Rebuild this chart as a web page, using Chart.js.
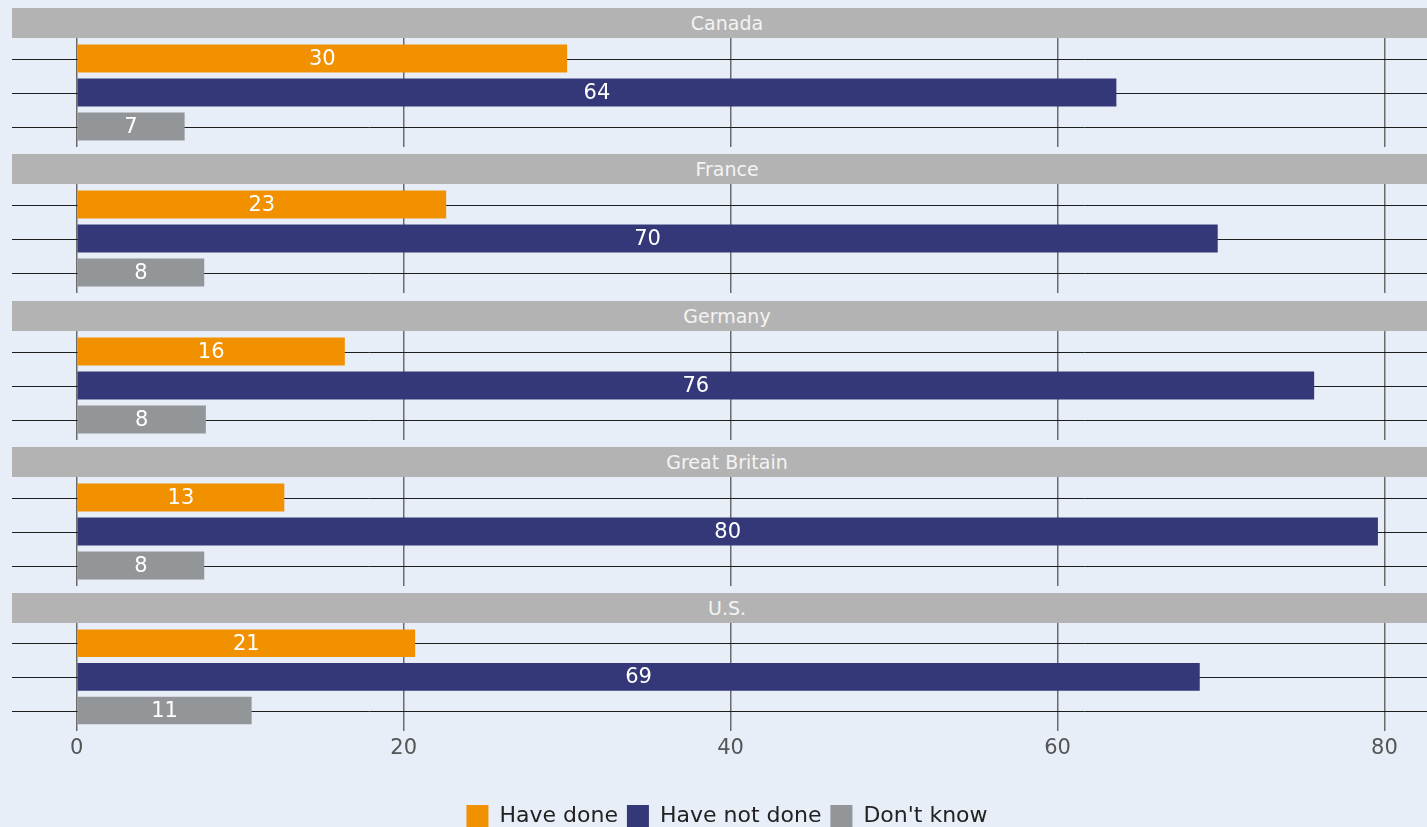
<!DOCTYPE html>
<html>
<head>
<meta charset="utf-8">
<script src="https://cdn.jsdelivr.net/npm/chart.js@4/dist/chart.umd.min.js"></script>
<style>
    html, body { margin: 0; padding: 0; background: #e8eef8; }
    #wrap { position: relative; width: 1427px; height: 827px; overflow: hidden; background: #e8eef8; }
    .strip {
        position: absolute; left: 12px; width: 1430px; height: 30px;
        background: #b3b3b3; color: #f4f4f4; text-align: center;
        font: 19px "DejaVu Sans", sans-serif; line-height: 30px;
    }
    canvas { position: absolute; left: 12px; }
</style>
</head>
<body>
<div id="wrap"></div>
<script>
const countries = ['Canada', 'France', 'Germany', 'Great Britain', 'U.S.'];
const seriesNames = ['Have done', 'Have not done', "Don't know"];
const haveDone = [30.0, 22.6, 16.4, 12.7, 20.7];
const haveNotDone = [63.6, 69.8, 75.7, 79.6, 68.7];
const dontKnow = [6.6, 7.8, 7.9, 7.8, 10.7];
const xTicks = [0, 20, 40, 60, 80];

const colors = ['#f29100', '#343879', '#929699'];
const fontFamily = '"DejaVu Sans", sans-serif';

Chart.defaults.font.family = fontFamily;

// horizontal rule through each bar centre
const rowLines = {
    id: 'rowLines',
    beforeDatasetsDraw(chart) {
        const { ctx, chartArea } = chart;
        ctx.save();
        ctx.strokeStyle = '#1e1e1e';
        ctx.lineWidth = 1;
        chart.data.datasets.forEach((ds, i) => {
            chart.getDatasetMeta(i).data.forEach(bar => {
                const y = Math.round(bar.y) + 0.5;
                ctx.beginPath();
                ctx.moveTo(chartArea.left, y);
                ctx.lineTo(chartArea.right, y);
                ctx.stroke();
            });
        });
        ctx.restore();
    }
};

// value labels centred in the bars
const barLabels = {
    id: 'barLabels',
    afterDatasetsDraw(chart) {
        const { ctx } = chart;
        ctx.save();
        ctx.fillStyle = '#ffffff';
        ctx.font = '21px ' + fontFamily;
        ctx.textAlign = 'center';
        ctx.textBaseline = 'middle';
        chart.data.datasets.forEach((ds, i) => {
            chart.getDatasetMeta(i).data.forEach((bar, j) => {
                const v = ds.data[j];
                ctx.fillText(String(Math.round(v)), (bar.base + bar.x) / 2, bar.y + 1);
            });
        });
        ctx.restore();
    }
};

const wrap = document.getElementById('wrap');
const panelStep = 146.25;

countries.forEach((country, i) => {
    const isLast = i === countries.length - 1;
    const top = 8 + i * panelStep;

    const strip = document.createElement('div');
    strip.className = 'strip';
    strip.style.top = top + 'px';
    strip.textContent = country;
    wrap.appendChild(strip);

    // canvas runs a little past the right edge, like the cropped original
    const canvas = document.createElement('canvas');
    canvas.width = 1430;
    canvas.height = isLast ? 214 : 109;
    canvas.style.top = (top + 30) + 'px';
    wrap.appendChild(canvas);

    new Chart(canvas, {
        type: 'bar',
        data: {
            labels: [country],
            datasets: [
                { label: seriesNames[0], data: [haveDone[i]], backgroundColor: colors[0] },
                { label: seriesNames[1], data: [haveNotDone[i]], backgroundColor: colors[1] },
                { label: seriesNames[2], data: [dontKnow[i]], backgroundColor: colors[2] }
            ]
        },
        options: {
            indexAxis: 'y',
            responsive: false,
            animation: false,
            devicePixelRatio: 1,
            categoryPercentage: 102 / 109,
            barPercentage: 28 / 34,
            layout: { padding: 0 },
            plugins: {
                tooltip: { enabled: false },
                legend: {
                    display: isLast,
                    position: 'bottom',
                    labels: {
                        boxWidth: 22, boxHeight: 22, padding: 9,
                        color: '#222222',
                        font: { size: 22 }
                    }
                }
            },
            scales: {
                x: {
                    type: 'linear',
                    min: -3.96,
                    max: 83.52,
                    afterBuildTicks(scale) {
                        scale.ticks = xTicks.map(v => ({ value: v }));
                    },
                    afterFit(scale) {
                        if (isLast) scale.height += 30;
                    },
                    grid: { color: '#6b6b6b', lineWidth: 1.5, drawTicks: false },
                    border: { display: false },
                    ticks: {
                        display: isLast,
                        includeBounds: false,
                        padding: 5,
                        color: '#555555',
                        font: { size: 21 }
                    }
                },
                y: {
                    display: false
                }
            }
        },
        plugins: [rowLines, barLabels]
    });
});
</script>
</body>
</html>
